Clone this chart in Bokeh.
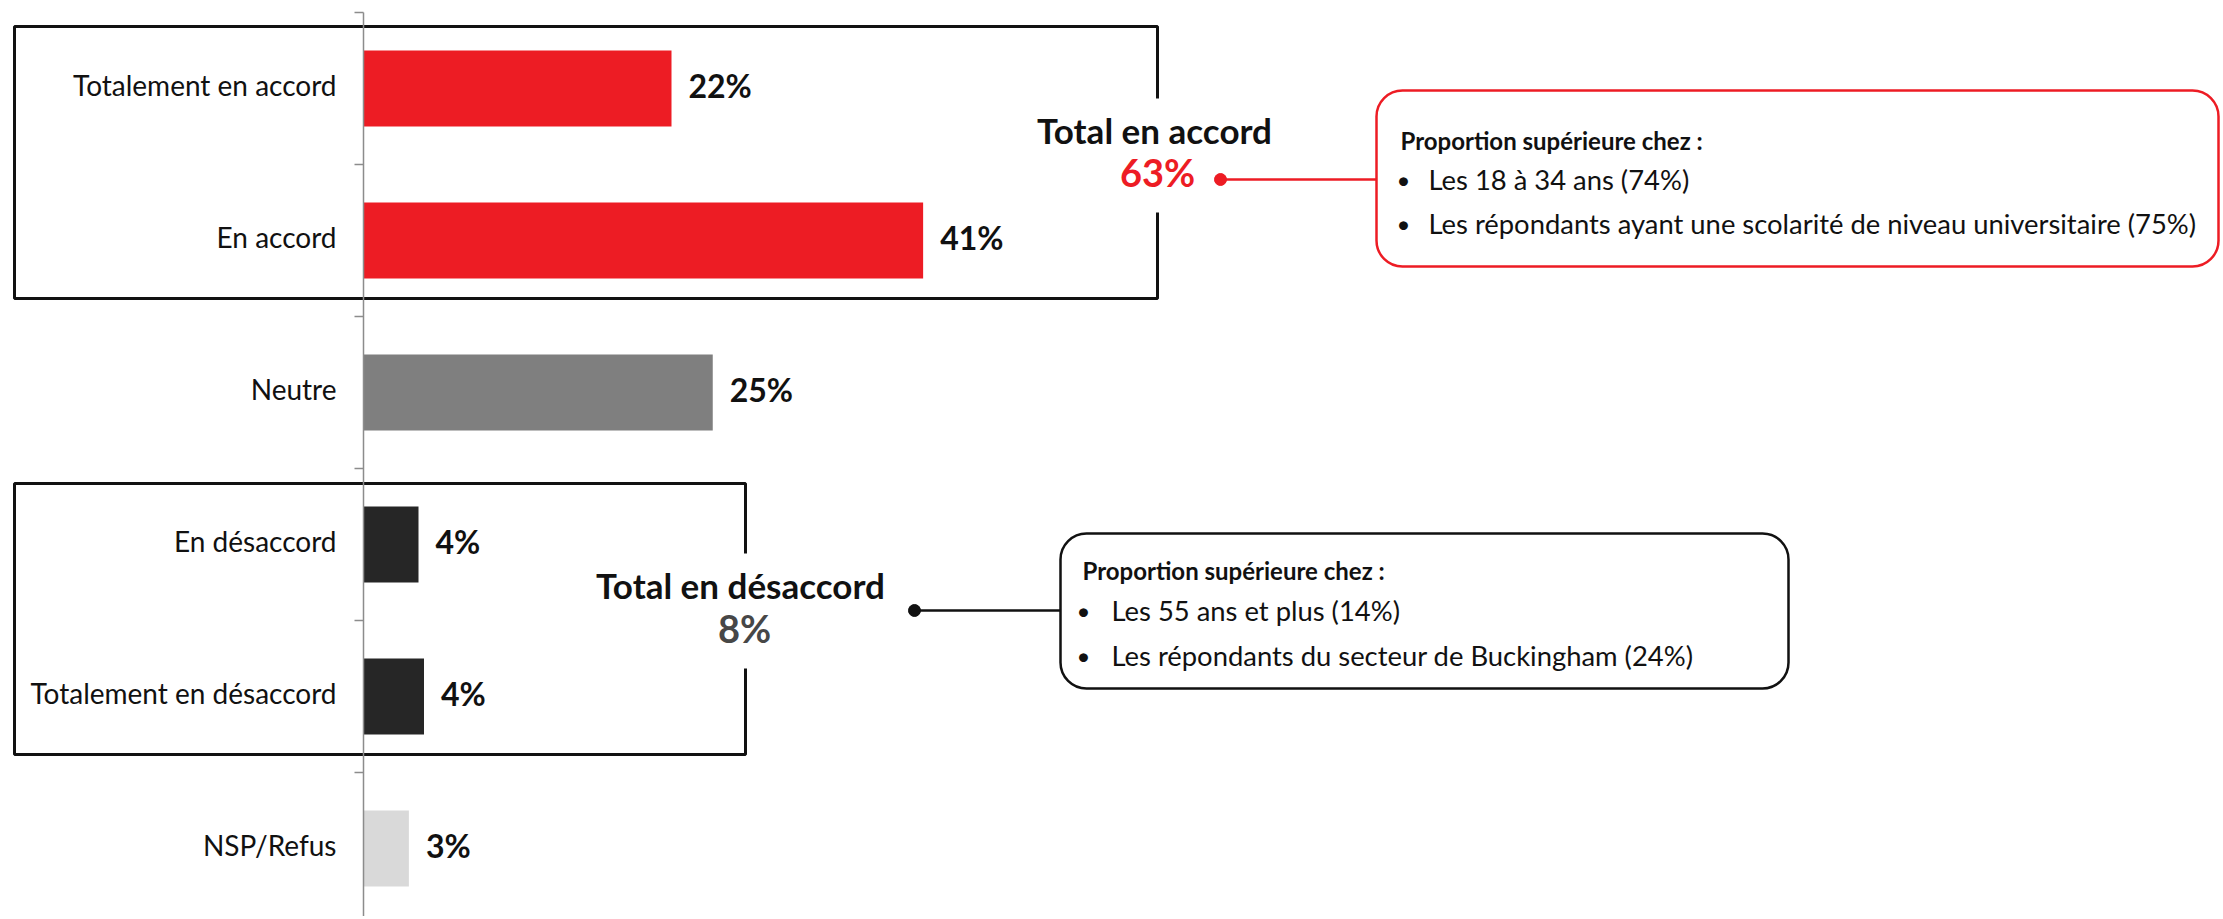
from bokeh.plotting import figure
from bokeh.models import Range1d, FixedTicker, BoxAnnotation
from bokeh.core.properties import value
from bokeh.embed import file_html
from bokeh.resources import INLINE

# ---------------- data ----------------
categories = ["Totalement en accord", "En accord", "Neutre", "En désaccord",
              "Totalement en désaccord", "NSP/Refus"]
values = [22.4, 40.7, 25.4, 4.0, 4.4, 3.3]
bar_colors = ["#ED1C24", "#ED1C24", "#7F7F7F", "#262626", "#262626", "#D9D9D9"]

total_accord_label = "Total en accord"
total_accord_value = 63
total_desaccord_label = "Total en désaccord"
total_desaccord_value = 8

callout_title = "Proportion supérieure chez :"
accord_items = ["Les 18 à 34 ans (74%)",
                "Les répondants ayant une scolarité de niveau universitaire (75%)"]
desaccord_items = ["Les 55 ans et plus (14%)",
                   "Les répondants du secteur de Buckingham (24%)"]

# ---------------- layout helpers (screen pixels -> data units) ----------------
W, H = 2220, 916
OFF = 0                    # screen offset of the figure
X0, PX = 363.0, 13.75      # screen x of 0 %, pixels per %
Y0, PY = 88.0, 152.0       # screen y of first category centre, pixels per category
LABEL_NUDGE = 0.025        # lift the category labels a few pixels


def dx(px):
    return (px - X0) / PX


def dy(py):
    return (py - Y0) / PY


FONT = value("Lato")
RED = "#ED1C24"
INK = "#111111"

p = figure(width=W, height=H, output_backend="svg", toolbar_location=None,
           x_range=Range1d(dx(OFF), dx(OFF + W)),
           y_range=Range1d(dy(OFF + H), dy(OFF)),
           x_axis_location=None, min_border=0)
p.min_border_left = p.min_border_right = p.min_border_top = p.min_border_bottom = 0
p.outline_line_color = None
p.grid.visible = False
p.background_fill_color = "white"

ypos = list(range(len(categories)))

# ---------------- axis ----------------
label_ticks = [i - LABEL_NUDGE for i in ypos]
ax = p.yaxis[0]
ax.fixed_location = 0
ax.ticker = FixedTicker(ticks=label_ticks, minor_ticks=[i - 0.5 for i in range(len(categories) + 1)])
ax.major_label_overrides = {t: c for t, c in zip(label_ticks, categories)}
ax.bounds = (-0.5, dy(OFF + H))
ax.axis_line_color = "#8C8C8C"
ax.axis_line_width = 1.5
ax.major_tick_line_color = None
ax.minor_tick_line_color = "#8C8C8C"
ax.minor_tick_line_width = 1.5
ax.minor_tick_out = 9
ax.minor_tick_in = 0
ax.major_label_standoff = 18
ax.major_label_text_font = "Lato"
ax.major_label_text_font_size = "28px"
ax.major_label_text_color = INK

# ---------------- group boxes ----------------
p.quad(left=[dx(14), dx(14)], right=[dx(1157), dx(745)],
       top=[dy(26), dy(483)], bottom=[dy(298), dy(754)],
       fill_color=None, line_color=INK, line_width=3)
# white gaps where the totals sit on the right edges
p.quad(left=[dx(1140), dx(728)], right=[dx(1175), dx(762)],
       top=[dy(98), dy(553)], bottom=[dy(212), dy(668)],
       fill_color="white", line_color=None)

# ---------------- bars ----------------
p.hbar(y=ypos, left=0, right=values, height=0.5, fill_color=bar_colors, line_color=None)
p.text(x=values, y=ypos, text=[f"{round(v)}%" for v in values], x_offset=17, y_offset=-3,
       text_font=FONT, text_font_style="bold", text_font_size="32px",
       text_color=INK, text_align="left", text_baseline="middle")

# ---------------- totals ----------------
p.text(x=[dx(1154), dx(740)], y=[dy(129), dy(584)],
       text=[total_accord_label, total_desaccord_label],
       text_font=FONT, text_font_style="bold", text_font_size="35px",
       text_color=INK, text_align="center", text_baseline="middle")
p.text(x=[dx(1157)], y=[dy(171)], text=[f"{total_accord_value}%"],
       text_font=FONT, text_font_style="bold", text_font_size="38px",
       text_color=RED, text_align="center", text_baseline="middle")
p.text(x=[dx(744)], y=[dy(627)], text=[f"{total_desaccord_value}%"],
       text_font=FONT, text_font_style="bold", text_font_size="38px",
       text_color="#474747", text_align="center", text_baseline="middle")

# ---------------- connectors ----------------
p.segment(x0=[dx(1220)], y0=[dy(179)], x1=[dx(1376)], y1=[dy(179)], line_color=RED, line_width=2.5)
p.scatter(x=[dx(1220)], y=[dy(179)], size=12, fill_color=RED, line_color=RED)
p.segment(x0=[dx(914)], y0=[dy(610)], x1=[dx(1060)], y1=[dy(610)], line_color=INK, line_width=2.5)
p.scatter(x=[dx(914)], y=[dy(610)], size=12, fill_color=INK, line_color=INK)

# ---------------- callout boxes ----------------
p.add_layout(BoxAnnotation(left=dx(1376), right=dx(2218), top=dy(90), bottom=dy(266),
                           fill_color="white", fill_alpha=1, line_color=RED, line_alpha=1,
                           line_width=2.5, border_radius=26, level="underlay"))
p.add_layout(BoxAnnotation(left=dx(1060), right=dx(1788), top=dy(533), bottom=dy(688),
                           fill_color="white", fill_alpha=1, line_color=INK, line_alpha=1,
                           line_width=2.5, border_radius=26, level="underlay"))

# callout texts
p.text(x=[dx(1400), dx(1082)], y=[dy(140), dy(570)], text=[callout_title, callout_title],
       text_font=FONT, text_font_style="bold", text_font_size="24px",
       text_color=INK, text_align="left", text_baseline="middle")
p.text(x=[dx(1396)] * 2 + [dx(1076)] * 2, y=[dy(179), dy(223), dy(610), dy(655)],
       text=["•"] * 4, text_font=FONT, text_font_size="24px",
       text_color=INK, text_align="left", text_baseline="middle")
p.text(x=[dx(1428)] * 2 + [dx(1111)] * 2, y=[dy(179), dy(223), dy(610), dy(655)],
       text=accord_items + desaccord_items, text_font=FONT, text_font_size="27.4px",
       text_color=INK, text_align="left", text_baseline="middle")

open("out.html", "w").write(file_html(p, INLINE))
